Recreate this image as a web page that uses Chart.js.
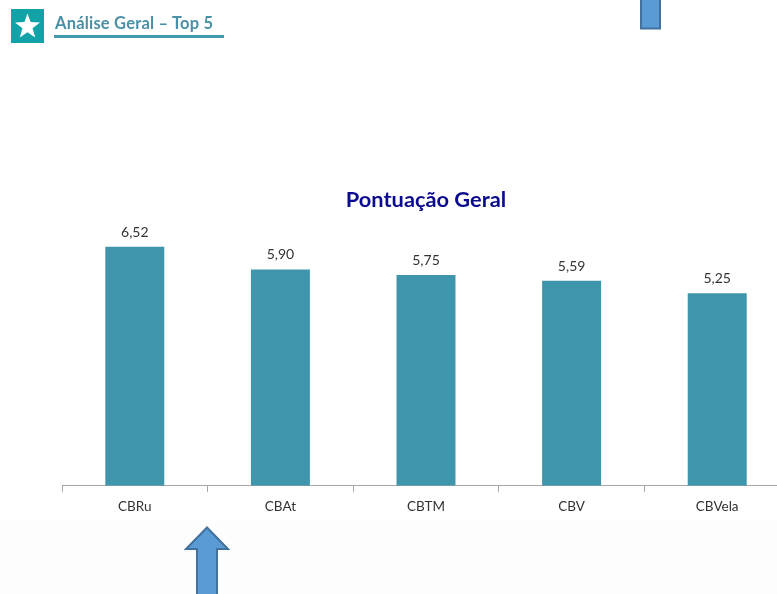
<!DOCTYPE html>
<html lang="pt">
<head>
<meta charset="utf-8">
<style>
html,body{margin:0;padding:0;width:777px;height:594px;overflow:hidden;background:#fff;font-family:Lato,sans-serif}
#wrap{position:absolute;left:0;top:0;width:777px;height:594px;overflow:hidden}
#fade{position:absolute;left:0;top:500px;width:777px;height:94px;background:linear-gradient(#ffffff,#fdfdfd 40%)}
#c{position:absolute;left:0;top:0}
#icon{position:absolute;left:11px;top:9px;width:33px;height:34px}
#head{position:absolute;left:55px;top:13px;font:bold 16.5px Lato,sans-serif;color:#4a90a6;white-space:nowrap;letter-spacing:.2px}
#rule{position:absolute;left:54px;top:35px;width:170px;height:3px;background:#3f9ab0}
svg.a{position:absolute;overflow:visible}
</style>
</head>
<body>
<div id="wrap">
<div id="fade"></div>
<canvas id="c" width="800" height="594" style="width:800px;height:594px"></canvas>
<svg id="icon" viewBox="0 0 33 34"><rect width="33" height="34" fill="#12a3a8"/><polygon points="16.5,4.5 19.6,13 29,13.4 21.6,19.2 24.2,28.5 16.5,23.2 8.8,28.5 11.4,19.2 4,13.4 13.4,13" fill="#fff"/></svg>
<div id="head">Análise Geral – Top 5</div>
<div id="rule"></div>
<svg class="a" style="left:0;top:0" width="777" height="594">
<polygon points="207,527.5 228,549 217,549 217,600 197,600 197,549 186,549" fill="#5b9bd5" stroke="#41719c" stroke-width="2"/>
<polygon points="641,-5 660,-5 660,28.5 641,28.5" fill="#5b9bd5" stroke="#41719c" stroke-width="2"/>
</svg>
</div>
<script src="https://cdn.jsdelivr.net/npm/chart.js@4"></script>
<script>
const categories = ["CBRu", "CBAt", "CBTM", "CBV", "CBVela"];
const scores = [6.52, 5.90, 5.75, 5.59, 5.25];
const titleText = "Pontuação Geral";

const valueLabels = {
  id: "valueLabels",
  afterDatasetsDraw(chart) {
    const ctx = chart.ctx;
    const meta = chart.getDatasetMeta(0);
    ctx.save();
    ctx.font = "14px Lato, sans-serif";
    ctx.fillStyle = "#333333";
    ctx.textAlign = "center";
    ctx.textBaseline = "alphabetic";
    meta.data.forEach((bar, i) => {
      ctx.fillText(scores[i].toFixed(2).replace(".", ","), bar.x, bar.y - 10);
    });
    ctx.restore();
  }
};

new Chart(document.getElementById("c"), {
  type: "bar",
  data: {
    labels: categories,
    datasets: [{
      data: scores,
      backgroundColor: "#3f96ac",
      borderWidth: 0,
      barPercentage: 0.405,
      categoryPercentage: 1
    }]
  },
  options: {
    responsive: false,
    animation: false,
    layout: { padding: { left: 62, right: 10, top: 0, bottom: 72 } },
    plugins: {
      legend: { display: false },
      tooltip: { enabled: false },
      title: {
        display: true,
        text: titleText,
        color: "#0b0b8f",
        font: { family: "Lato, sans-serif", size: 21.8, weight: "bold" },
        padding: { top: 187, bottom: 16 }
      }
    },
    scales: {
      x: {
        grid: { drawOnChartArea: false, drawTicks: true, tickLength: 6, color: "#a6a6a6" },
        border: { color: "#a6a6a6", width: 1 },
        ticks: { color: "#333333", font: { family: "Lato, sans-serif", size: 13.5 }, padding: 7, maxRotation: 0 }
      },
      y: { display: false, min: 0, max: 7 }
    }
  },
  plugins: [valueLabels]
});
</script>
</body>
</html>
